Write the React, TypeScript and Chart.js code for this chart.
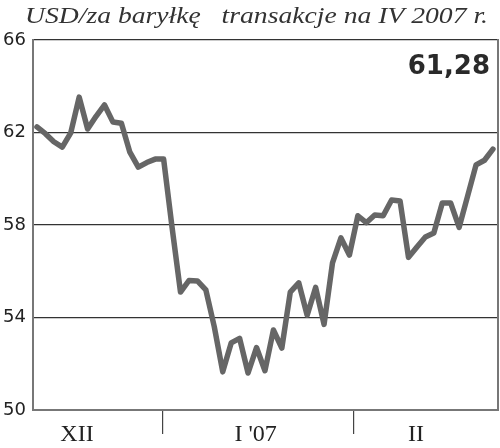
import React, { useEffect, useRef } from "react";
import { Chart, registerables } from "chart.js";

Chart.register(...registerables);

const titleText = "USD/za baryłkę   transakcje na IV 2007 r.";
const lastValueLabel = "61,28";

// daily closing prices (USD per barrel), Dec 2006 – Feb 2007
const prices = [
  62.24, 61.95, 61.6, 61.37, 61.98, 63.53, 62.15, 62.7, 63.19, 62.45,
  62.4, 61.15, 60.5, 60.7, 60.85, 60.85, 57.9, 55.1, 55.6, 55.58,
  55.19, 53.6, 51.65, 52.9, 53.1, 51.6, 52.7, 51.7, 53.46, 52.68,
  55.1, 55.5, 54.1, 55.3, 53.7, 56.36, 57.44, 56.7, 58.4, 58.1,
  58.43, 58.4, 59.08, 59.04, 56.6, 57.05, 57.48, 57.65, 58.95, 58.95,
  57.9, 59.25, 60.6, 60.8, 61.28,
];

const monthLabels = ["XII", "I '07", "II"];
const monthLabelPos = [4.74, 25.9, 44.9];
const monthBoundaries = [14.93, 37.45];

const yTicks = [50, 54, 58, 62, 66];

export default function App() {
  const ref = useRef<HTMLCanvasElement | null>(null);

  useEffect(() => {
    document.body.style.margin = "0";
    const canvas = ref.current;
    if (!canvas) return;

    const xTickDefs = [
      ...monthLabelPos.map((v, i) => ({ value: v, label: monthLabels[i], sep: false })),
      ...monthBoundaries.map((v) => ({ value: v, label: "", sep: true })),
    ].sort((a, b) => a.value - b.value);

    const textPlugin = {
      id: "texts",
      afterDraw(chart: any) {
        const ctx = chart.ctx;
        const area = chart.chartArea;
        ctx.save();
        ctx.fillStyle = "#333";
        ctx.font = 'italic 23px "Liberation Serif"';
        ctx.textAlign = "left";
        ctx.textBaseline = "alphabetic";
        const w = ctx.measureText(titleText).width;
        const targetW = 463;
        const sx = targetW / w;
        ctx.translate(25, 23);
        ctx.scale(sx, 1);
        ctx.fillText(titleText, 0, 0);
        ctx.restore();
        ctx.save();
        ctx.font = 'bold 26px "DejaVu Sans"';
        ctx.textAlign = "right";
        ctx.textBaseline = "alphabetic";
        ctx.fillStyle = "#2a2a2a";
        ctx.fillText(lastValueLabel, area.right - 8, 74);
        ctx.restore();
      },
    };

    const chart = new Chart(canvas, {
      type: "line",
      data: {
        datasets: [
          {
            data: prices.map((v, i) => ({ x: i, y: v })),
            borderColor: "#666666",
            borderWidth: 5.5,
            pointRadius: 0,
            borderJoinStyle: "round",
            borderCapStyle: "round",
            tension: 0,
            fill: false,
          },
        ],
      },
      options: {
        responsive: false,
        animation: false,
        layout: { padding: { top: 40, left: 0, right: 0, bottom: 0 } },
        plugins: {
          legend: { display: false },
          tooltip: { enabled: false },
          title: { display: false },
        },
        scales: {
          x: {
            type: "linear",
            min: -0.47,
            max: 54.6,
            position: "bottom",
            afterBuildTicks: (scale: any) => {
              scale.ticks = xTickDefs.map((t) => ({ value: t.value }));
            },
            afterFit: (scale: any) => {
              scale.height = 38;
            },
            ticks: {
              autoSkip: false,
              maxRotation: 0,
              padding: -14,
              color: "#222",
              font: { family: '"Liberation Serif"', size: 24 },
              callback: (_v: any, i: number) => xTickDefs[i]?.label ?? "",
            },
            grid: {
              drawOnChartArea: false,
              drawTicks: true,
              tickLength: 24,
              lineWidth: 1.2,
              color: (ctx: any) => (xTickDefs[ctx.index]?.sep ? "#444" : "rgba(0,0,0,0)"),
            },
            border: { display: true, color: "#777", width: 2 },
          },
          y: {
            min: 50,
            max: 66,
            position: "left",
            afterBuildTicks: (scale: any) => {
              scale.ticks = yTicks.map((v) => ({ value: v }));
            },
            afterFit: (scale: any) => {
              scale.width = 33;
            },
            ticks: {
              padding: 7,
              color: "#222",
              font: { family: '"DejaVu Sans"', size: 18 },
              callback: (v: any) => String(v),
            },
            grid: {
              drawTicks: false,
              lineWidth: 1.2,
              color: (ctx: any) => (ctx.tick && ctx.tick.value === 50 ? "rgba(0,0,0,0)" : "#333"),
            },
            border: { display: true, color: "#777", width: 2 },
          },
          yRight: {
            type: "linear",
            min: 50,
            max: 66,
            position: "right",
            afterFit: (scale: any) => {
              scale.width = 2;
            },
            ticks: { display: false },
            grid: { drawOnChartArea: false, drawTicks: false },
            border: { display: true, color: "#777", width: 2 },
          },
        },
      },
      plugins: [textPlugin],
    } as any);

    return () => chart.destroy();
  }, []);

  return (
    <div style={{ width: 500, height: 448 }}>
      <canvas ref={ref} width={500} height={448} />
    </div>
  );
}
